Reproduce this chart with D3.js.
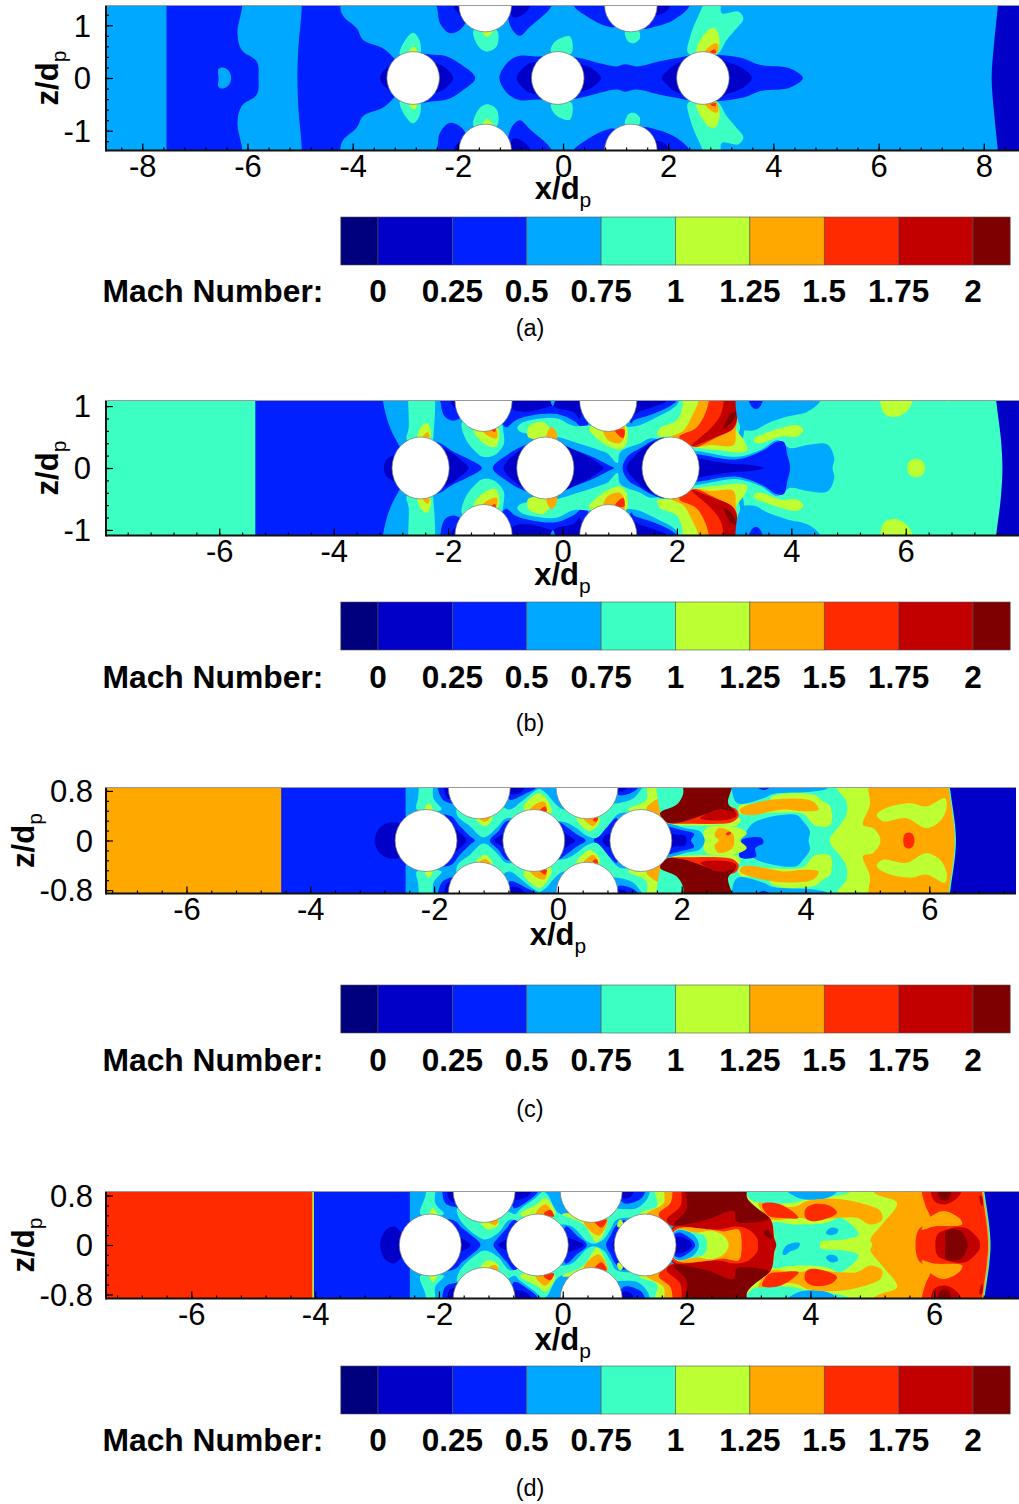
<!DOCTYPE html>
<html><head><meta charset="utf-8">
<style>html,body{margin:0;padding:0;background:#fff}svg{display:block}text{font-family:"Liberation Sans",Arial,sans-serif}</style>
<script src="https://cdnjs.cloudflare.com/ajax/libs/d3/7.8.5/d3.min.js"></script>
</head><body>
<svg id="chart" width="1019" height="1504"></svg>
<script>
// Mach bands
const machTicks=[0,0.25,0.5,0.75,1,1.25,1.5,1.75,2];
const machEdges=[-0.125,0,0.25,0.5,0.75,1,1.25,1.5,1.75,2,2.125];
const bandColors=["#00007f","#0000c8","#0020ff","#00a8ff","#3cffc3","#bcff33","#ffa800","#ff2a00","#c20000","#7f0000"];

// cylinder centres (x/dp): middle row, then the two rows cut by the frame edge
const cylA={mid:[-2.85,-0.1,2.66],edge:[-1.48,1.29],z:1.375};
const cylB={mid:[-2.48,-0.30,1.89],edge:[-1.38,0.80],z:1.09};
const cylC={mid:[-2.13,-0.39,1.34],edge:[-1.27,0.47],z:0.85};
const cylD={mid:[-2.14,-0.41,1.33],edge:[-1.27,0.46],z:0.865};

// contour rings: [band index, kind, [[x/dp,z/dp],...]]
// kind 0 = drawn with its mirror in z, 1 = closed across z=0 by its mirror, 2 = drawn once
const ringsA=[
[2,1,[[-5.79,0],[-5.82,.31],[-6.11,.53],[-6.19,.85],[-6.10,1.36],[-6.08,2],[-7.54,2],[-7.54,1.5],[-7.54,.8],[-7.54,0]]],
[3,1,[[-6.31,0],[-6.35,.13],[-6.46,.2],[-6.55,.17],[-6.55,0]]],
[2,1,[[-2.9,0],[-3.2,.36],[-3.42,.56],[-3.8,.72],[-3.92,.94],[-4.21,1.23],[-4.26,2],[-4.97,2],[-4.97,1.3],[-5.03,.6],[-5.05,0]]],
[1,1,[[-3.48,0],[-3.42,.13],[-3.25,.25],[-3,.2],[-3,0]]],
[2,1,[[-1.67,0],[-1.93,.25],[-2.21,.41],[-2.46,.44],[-2.85,.44],[-2.85,0]]],
[1,1,[[-2.09,0],[-2.27,.22],[-2.46,.29],[-2.8,.3],[-2.8,0]]],
[2,1,[[-1.21,0],[-1.04,.31],[-.82,.42],[-.5,.41],[.26,.39],[.7,.28],[1.02,.22],[1.18,.26],[1.4,.22],[1.84,.32],[2.22,.39],[2.5,.44],[2.92,.44],[3.43,.37],[3.74,.25],[4.32,.18],[4.56,0]]],
[1,1,[[.72,0],[.55,.18],[.32,.26],[-.6,.29],[-.75,.2],[-.88,0]]],
[1,1,[[3.59,0],[3.43,.18],[3.11,.31],[2.92,.38],[2.16,.27],[2,.15],[1.88,0]]],
[2,0,[[-2.4,1.6],[-2.38,1.25],[-2.34,1.04],[-2.15,.85],[-1.93,.94],[-1.8,1.2],[-1.8,1.6]]],
[1,0,[[-2.1,1.6],[-2.05,1.3],[-1.85,1.15],[-1.7,1.3],[-1.7,1.6]]],
[2,0,[[-1,.98],[-.82,.8],[-.63,.97],[-.22,1.36],[-.2,1.6],[-1,1.6]]],
[2,0,[[.2,1.37],[.15,1.6],[1,1.6],[1,.98],[.83,.98],[.45,1.17]]],
[2,0,[[1.5,1.6],[1.5,.95],[1.78,.98],[2.1,1.1],[2.4,1.36],[2.4,1.6]]],
[1,0,[[-.95,1.6],[-.95,1.15],[-.7,1.25],[-.55,1.6]]],
[1,0,[[1.75,1.6],[1.75,1.2],[2,1.3],[2.05,1.6]]],
[4,0,[[-3.1,.44],[-3,.72],[-2.85,.86],[-2.73,.72],[-2.73,.44]]],
[5,0,[[-2.94,.4],[-2.88,.58],[-2.8,.58],[-2.78,.4]]],
[4,0,[[-1.7,.91],[-1.61,.6],[-1.45,.5],[-1.26,.6],[-1.26,.91]]],
[5,0,[[-1.55,.95],[-1.45,.78],[-1.3,.95]]],
[4,0,[[-.23,.5],[-.15,.69],[.13,.79],[.16,.47]]],
[4,0,[[1.18,.88],[1.24,.69],[1.34,.66],[1.46,.75],[1.43,.91]]],
[4,0,[[2.38,.47],[2.42,.79],[2.57,1.17],[2.76,1.5],[2.98,1.5],[3.02,1.23],[3.33,1.26],[3.43,1.13],[3.27,.91],[3.11,.72],[2.92,.44]]],
[5,0,[[2.54,.5],[2.76,.91],[2.89,.94],[2.98,.69],[2.89,.44]]],
[6,0,[[2.7,.5],[2.89,.66],[2.95,.63],[2.92,.47]]],
[7,0,[[2.8,.5],[2.89,.54],[2.91,.47]]],
[1,1,[[8.15,0],[8.2,.7],[8.27,1.4],[8.3,2],[9.5,2],[9.5,0]]]
];
const ringsB=[
[3,1,[[-3.6,0],[-3.6,2],[3.1,2],[3.1,0]]],
[2,1,[[-2.6,0],[-2.86,.37],[-3.01,.64],[-3.14,1.09],[-3.18,2],[-5.37,2],[-5.37,1.3],[-5.37,.8],[-5.37,0]]],
[1,1,[[-3.12,0],[-3.08,.13],[-2.9,.22],[-2.7,.2],[-2.7,0]]],
[4,0,[[-2.63,1.5],[-2.69,.64],[-2.72,.45],[-2.3,.4],[-2.25,.6],[-2.31,1.5]]],
[5,0,[[-2.53,.5],[-2.45,.69],[-2.36,.72],[-2.3,.59],[-2.32,.48]]],
[6,0,[[-2.44,.5],[-2.36,.58],[-2.32,.5]]],
[2,0,[[-2.1,1.4],[-2.1,.91],[-2.02,.8],[-1.87,.77],[-1.7,.9],[-1.7,1.4]]],
[1,0,[[-1.95,1.3],[-1.92,1],[-1.8,.95],[-1.7,1.3]]],
[4,0,[[-1.75,.75],[-1.7,.48],[-1.55,.29],[-1.4,.18],[-1.2,.2],[-1.03,.37],[-1.03,.56],[-1.1,.75]]],
[5,0,[[-1.55,.61],[-1.38,.4],[-1.17,.34],[-1.11,.48],[-1.14,.64]]],
[6,0,[[-1.4,.61],[-1.32,.53],[-1.15,.48],[-1.17,.64]]],
[7,0,[[-1.26,.63],[-1.18,.58],[-1.17,.64]]],
[2,1,[[-1.41,0],[-1.65,.15],[-1.9,.26],[-2.19,.42],[-2.5,.45],[-2.5,0]]],
[1,1,[[-1.64,0],[-1.78,.13],[-2.02,.29],[-2.3,.3],[-2.3,0]]],
[2,1,[[-1.22,0],[-.97,.21],[-.73,.34],[-.3,.47],[-.09,.42],[.2,.3],[.55,.17],[.8,.05],[.9,0]]],
[1,1,[[-1.03,0],[-.85,.21],[-.6,.35],[-.3,.4],[-.03,.37],[.2,.29],[.49,.16],[.66,.05],[.72,0]]],
[2,0,[[-1,.66],[-.8,.78],[-.38,.87],[-.09,.87],[.2,.76],[.4,.62],[.4,1.4],[-1.1,1.4]]],
[1,0,[[-.88,.96],[-.62,.91],[-.27,.98],[-.18,1],[-.09,.96],[.2,.9],[.3,.8],[.3,1.4],[-.88,1.4]]],
[3,0,[[-.21,1.12],[-.17,1.0],[-.13,1.12]]],
[2,0,[[1.2,1.4],[1.2,.72],[1.25,.77],[1.6,.88],[2,1.09],[2.05,1.4]]],
[1,0,[[1.2,1.3],[1.2,.85],[1.34,.91],[1.6,.99],[1.83,1.09],[1.9,1.3]]],
[4,0,[[-.79,.64],[-.73,.72],[-.38,.8],[-.09,.8],[.2,.68],[.6,.7],[1.25,.67],[1.6,.8],[2,1.02],[2.12,1.3],[3,1.3],[3,.4],[2,.4],[1.54,.48],[1.36,.4],[1.01,.26],[.96,.08],[.78,.24],[.61,.3],[.2,.42],[-.09,.5],[-.73,.58]]],
[2,1,[[1.05,0],[1.15,.2],[1.36,.32],[1.54,.42],[1.8,.48],[1.8,0]]],
[1,1,[[1.12,0],[1.22,.15],[1.51,.38],[1.8,.45],[1.8,0]]],
[5,0,[[-.6,.5],[-.58,.68],[-.33,.74],[-.2,.6],[-.18,.48]]],
[6,0,[[-.28,.5],[-.2,.66],[-.12,.6],[-.1,.45]]],
[5,0,[[.46,.64],[.6,.48],[.8,.35],[1.02,.3],[1.12,.4],[1.1,.7]]],
[6,0,[[.72,.6],[.8,.45],[1.0,.4],[1.08,.5],[1.06,.7]]],
[7,0,[[.92,.6],[1.06,.48],[1.08,.62]]],
[4,1,[[3.4,0],[3.5,.34],[3.2,.32],[2.2,.38],[2,.35],[2,0]]],
[5,0,[[1.66,.52],[1.7,.64],[2,.77],[2.1,1],[2.1,1.4],[3.06,1.4],[3.06,.9],[3.03,.64],[3.17,.45],[3.23,.29],[3.1,.25],[2.8,.28],[2.3,.34],[2.1,.42],[1.9,.5]]],
[6,0,[[1.9,.5],[2.12,.61],[2.27,.85],[2.38,1.09],[2.38,1.4],[3.06,1.4],[3.06,.9],[3.03,.62],[2.99,.37],[2.6,.37],[2.3,.34],[2.05,.47]]],
[7,0,[[2.04,.5],[2.33,.64],[2.47,.83],[2.56,1.09],[2.56,1.4],[3.06,1.4],[3.06,.9],[3.03,.7],[2.9,.6],[2.6,.45],[2.3,.34]]],
[8,0,[[2.26,.36],[2.59,.64],[2.76,.85],[2.82,1.09],[2.82,1.4],[3.06,1.4],[3.06,.9],[3.03,.72],[2.97,.62],[2.6,.47]]],
[9,0,[[2.82,.64],[2.94,.88],[3.03,.91],[2.97,.75]]],
[3,0,[[3.11,1.4],[3.13,.64],[3.35,.61],[3.58,.72],[3.93,.83],[4.28,.91],[4.51,1.09],[4.55,1.4]]],
[2,0,[[3.26,1.15],[3.3,1],[3.38,.95],[3.46,1],[3.5,1.15]]],
[5,0,[[3.35,.48],[3.46,.53],[3.81,.64],[4.1,.69],[4.21,.61],[4.1,.51],[3.81,.51],[3.46,.4],[3.35,.42]]],
[5,0,[[5.59,1.3],[5.62,.88],[5.85,.83],[6.08,.99],[6.09,1.3]]],
[5,0,[[6.68,1.12],[6.73,1.07],[6.78,1.12]]],
[5,1,[[6.34,0],[6.3,.1],[6.18,.15],[6.06,.1],[6.03,0]]],
[3,1,[[4.72,0],[4.75,.16],[4.63,.38],[4.28,.37],[3.99,.32],[3.76,.45],[3.46,.29],[3.05,.18],[2.38,.27],[2,.3],[2,0]]],
[2,1,[[3.98,0],[3.93,.21],[3.87,.42],[3.73,.42],[3.52,.29],[3.05,.14],[2.38,.22],[2,.25],[2,0]]],
[1,1,[[3.52,0],[3.3,.05],[2.94,.07],[2.39,.15],[2,.2],[2,0]]],
[1,1,[[7.69,0],[7.66,.5],[7.58,1.1],[7.5,2],[9.5,2],[9.5,0]]]
];
const ringsC=[
[3,1,[[-2.7,0],[-2.7,2],[2,2],[2,0]]],
[2,1,[[-2.46,0],[-2.46,.5],[-2.46,1],[-2.46,2],[-4.47,2],[-4.47,1],[-4.47,.5],[-4.47,0]]],
[1,1,[[-2.96,0],[-2.88,.2],[-2.71,.29],[-2.5,.25],[-2.4,0]]],
[4,0,[[-2.28,.5],[-2.26,.68],[-2.2,1],[-2.04,1],[-2.01,.68],[-1.88,.5]]],
[5,0,[[-2.15,.5],[-2.09,.6],[-2.02,.5]]],
[2,0,[[-1.93,1],[-1.88,.68],[-1.74,.6],[-1.6,.6],[-1.6,1]]],
[1,0,[[-1.83,.95],[-1.78,.68],[-1.65,.68],[-1.65,.95]]],
[2,1,[[-1.34,0],[-1.42,.07],[-1.6,.25],[-1.72,.39],[-2,.4],[-2,0]]],
[1,1,[[-1.48,0],[-1.58,.12],[-1.8,.25],[-1.8,0]]],
[2,1,[[-1.1,0],[-.96,.15],[-.83,.31],[-.6,.3],[-.6,0]]],
[1,1,[[-1.02,0],[-.91,.09],[-.8,.15],[-.8,0]]],
[2,1,[[.45,0],[.3,.1],[.14,.22],[0,.3],[0,0]]],
[1,1,[[.28,0],[.2,.06],[.1,.12],[0,.1],[0,0]]],
[2,1,[[.58,0],[.68,.12],[.84,.27],[.95,.36],[1,0]]],
[1,1,[[.72,0],[.8,.1],[.9,.1],[.9,0]]],
[2,0,[[-.78,.95],[-.78,.66],[-.5,.77],[-.34,.86],[-.34,.95]]],
[1,0,[[-.78,.95],[-.78,.76],[-.6,.78],[-.5,.95]]],
[2,0,[[.9,1],[.97,.74],[1.16,.76],[1.3,.86],[1.3,1]]],
[1,0,[[.9,1],[.97,.8],[1.1,.82],[1.15,1]]],
[4,0,[[-1.6,.6],[-1.63,.41],[-1.42,.23],[-1.2,.05],[-.99,.2],[-.83,.36],[-.4,.3],[.11,.3],[.3,.2],[.46,.08],[.62,.04],[.78,.2],[.9,.36],[1,.44],[1.3,.45],[1.7,.6],[1.7,.95],[1.46,.95],[1.22,.68],[.97,.6],[.7,.6],[.09,.5],[-.2,.77],[-.3,.83],[-.4,.78],[-.6,.62],[-.78,.5],[-1,.6]]],
[5,0,[[-1.34,.37],[-1.18,.23],[-1.07,.33],[-1.07,.42],[-1.3,.45]]],
[6,0,[[-1.28,.37],[-1.18,.3],[-1.09,.37],[-1.1,.42],[-1.25,.42]]],
[5,0,[[-.56,.52],[-.4,.72],[-.28,.76],[-.14,.6],[-.1,.45],[-.3,.42]]],
[6,0,[[-.45,.5],[-.29,.62],[-.21,.62],[-.18,.47],[-.35,.45]]],
[7,0,[[-.3,.47],[-.21,.55],[-.18,.47]]],
[5,0,[[.3,.36],[.52,.15],[.68,.31],[.65,.39],[.45,.42]]],
[6,0,[[.41,.37],[.57,.23],[.65,.37],[.55,.42]]],
[7,0,[[.56,.34],[.62,.3],[.65,.37]]],
[5,0,[[1.14,.5],[1.43,.66],[1.46,1],[2.5,1],[2.5,.4],[1.5,.4]]],
[6,0,[[1.43,.52],[1.54,.63],[1.65,.7],[1.65,1],[2.5,1],[2.5,.4],[1.6,.4]]],
[7,0,[[1.65,.5],[1.76,.7],[1.76,1],[2.5,1],[2.5,.4],[1.8,.3]]],
[8,0,[[1.7,.48],[1.85,.72],[1.91,1],[2.5,1],[2.5,.4],[1.8,.3]]],
[5,1,[[5.21,0],[5.2,.06],[5.09,.2],[4.93,.25],[5.04,.58],[5.01,.86],[5.01,1.4],[2.7,1.4],[2.7,0]]],
[4,1,[[4.39,0],[4.56,.25],[4.66,.41],[4.66,.63],[4.5,.86],[4.5,1.4],[1.7,1.4],[1.7,0]]],
[3,0,[[2.75,1.2],[2.8,.86],[2.9,.6],[3.32,.68],[3.48,.75],[4.12,.79],[4.37,.86],[4.37,1.2]]],
[2,0,[[3.15,.95],[3.32,.81],[3.52,.95]]],
[5,0,[[2.93,.44],[2.93,.56],[3.37,.6],[3.48,.72],[4.12,.74],[4.29,.63],[4.4,.55],[4.4,.25],[4.15,.24],[3.96,.43],[3.53,.45]]],
[6,0,[[2.94,.5],[3.48,.66],[4.12,.63],[4.21,.5],[3.96,.47],[3.64,.5],[3.15,.41],[2.97,.43]]],
[5,0,[[1.76,.27],[2.2,.24],[2.6,.24],[2.9,.25],[2.95,.35],[2.3,.38],[1.9,.35]]],
[7,0,[[1.76,.29],[2.2,.27],[2.6,.27],[2.82,.3],[2.92,.4],[2.86,.52],[2.4,.5],[2,.4]]],
[8,0,[[2.3,.36],[2.62,.5],[2.86,.47],[2.88,.39],[2.7,.33],[2.4,.33]]],
[9,0,[[1.65,.44],[1.92,.58],[2.02,.74],[2.05,1],[2.81,1],[2.81,.86],[2.75,.6],[2.86,.47],[2.62,.5],[2.35,.41],[2,.3],[1.76,.29]]],
[3,1,[[4.05,0],[4.07,.15],[3.96,.31],[3.86,.41],[3.48,.39],[3.15,.28],[2.99,.07],[2.9,0]]],
[2,2,[[2.94,-.1],[2.97,.01],[3.29,.04],[3.32,-.04],[3.19,-.12],[3.2,-.26],[2.94,-.27]]],
[3,1,[[2.37,0],[2.3,.14],[2.05,.2],[1.8,.27],[1.7,.27],[1.7,0]]],
[2,1,[[2.15,0],[2.2,.1],[1.95,.18],[1.8,.22],[1.7,.25],[1.7,0]]],
[1,1,[[2.08,0],[2.05,.08],[1.87,.1],[1.75,.15],[1.7,0]]],
[5,1,[[2.95,0],[3.05,.12],[2.85,.22],[2.4,.2],[2.35,.1],[2.38,0]]],
[6,1,[[2.85,0],[2.82,.12],[2.6,.2],[2.53,.08],[2.6,0]]],
[7,2,[[2.71,.1],[2.76,.14],[2.8,.12],[2.75,.08]]],
[5,0,[[5.15,.41],[5.29,.52],[5.69,.6],[5.95,.55],[6.25,.68],[6.28,.52],[6.17,.31],[5.95,.2],[5.63,.36],[5.25,.31]]],
[7,1,[[5.76,0],[5.73,.1],[5.67,.13],[5.6,.1],[5.58,0]]],
[4,1,[[6.41,0],[6.39,.3],[6.32,.8],[6.28,1.2],[8,1.2],[8,0]]],
[1,1,[[6.43,0],[6.41,.3],[6.34,.8],[6.3,1.2],[8,1.2],[8,0]]]
];
const ringsD=[
[5,1,[[-4.045,0],[-4.045,.5],[-4.045,1],[-4.045,2],[-3,2],[-3,0]]],
[3,1,[[-2.7,0],[-2.7,2],[2,2],[2,0]]],
[2,1,[[-2.47,0],[-2.47,.5],[-2.47,1],[-2.47,2],[-4.02,2],[-4.02,1],[-4.02,.5],[-4.02,0]]],
[1,1,[[-2.95,0],[-2.87,.23],[-2.73,.3],[-2.6,.2],[-2.4,0]]],
[4,0,[[-2.3,.5],[-2.22,.79],[-2.18,1],[-2.06,1],[-2.06,.68],[-1.92,.5]]],
[5,0,[[-2.15,.5],[-2.1,.6],[-2.03,.5]]],
[2,0,[[-1.92,1],[-1.9,.68],[-1.76,.62],[-1.6,.62],[-1.6,1]]],
[1,0,[[-1.85,.95],[-1.82,.72],[-1.65,.7],[-1.65,.95]]],
[2,1,[[-1.33,0],[-1.49,.17],[-1.63,.28],[-1.74,.39],[-2,.4],[-2,0]]],
[1,1,[[-1.49,0],[-1.6,.09],[-1.8,.15],[-1.8,0]]],
[2,1,[[-1.12,0],[-1.04,.12],[-.9,.28],[-.79,.41],[-.6,.4],[-.6,0]]],
[1,1,[[-1.04,0],[-.9,.09],[-.8,.1],[-.8,0]]],
[2,1,[[.39,0],[.23,.15],[.05,.3],[0,0]]],
[1,1,[[.34,0],[.17,.09],[0,.12],[0,0]]],
[2,1,[[.7,0],[.77,.15],[.85,.3],[1,.4],[1.2,0]]],
[1,1,[[.8,0],[.85,.09],[1,.1],[1,0]]],
[2,0,[[-.79,1],[-.79,.6],[-.55,.72],[-.4,.86],[-.4,1]]],
[1,0,[[-.79,1],[-.79,.74],[-.55,.8],[-.5,1]]],
[2,0,[[.9,1],[.98,.68],[1.25,.74],[1.33,.86],[1.33,1]]],
[1,0,[[.9,1],[.96,.76],[1.1,.78],[1.15,1]]],
[4,0,[[-1.7,.6],[-1.66,.41],[-1.39,.15],[-1.25,.09],[-1.04,.2],[-.85,.41],[-.5,.3],[.12,.31],[.39,.06],[.5,.02],[.66,.09],[.77,.25],[.87,.41],[1.3,.45],[1.7,.55],[1.63,.85],[1.63,1],[1.47,1],[1.36,.74],[1.2,.6],[.98,.58],[.7,.6],[-.04,.5],[-.25,.82],[-.32,.86],[-.44,.76],[-.69,.58],[-.77,.5],[-1,.6]]],
[5,0,[[-1.33,.37],[-1.22,.25],[-1.05,.31],[-1.05,.41],[-1.3,.45]]],
[6,0,[[-1.2,.37],[-1.09,.32],[-1.04,.4],[-1.2,.42]]],
[5,0,[[-.69,.5],[-.42,.66],[-.28,.76],[-.12,.5],[-.4,.42]]],
[6,0,[[-.44,.5],[-.28,.66],[-.15,.47],[-.3,.44]]],
[7,0,[[-.31,.5],[-.2,.57],[-.14,.46]]],
[5,0,[[-.01,.5],[.34,.33],[.55,.04],[.71,.31],[.71,.41],[.3,.5]]],
[6,0,[[.34,.37],[.58,.15],[.72,.41],[.5,.45]]],
[7,0,[[.52,.37],[.63,.28],[.71,.41]]],
[5,0,[[.88,.3],[.92,.41],[.97,.37],[.97,.28]]],
[5,0,[[1.25,.52],[1.52,.63],[1.49,1],[2.2,1],[2.2,.35],[1.6,.35]]],
[6,0,[[1.36,.5],[1.63,.68],[1.66,1],[2.2,1],[2.2,.35],[1.6,.35]]],
[7,0,[[1.55,.5],[1.74,.68],[1.82,1],[2.2,1],[2.2,.35],[1.7,.33]]],
[8,0,[[1.68,.41],[1.9,.63],[1.95,1],[2.2,1],[2.2,.35],[1.75,.32]]],
[6,1,[[5.7,0],[5.7,.06],[5.75,.25],[5.94,.41],[5.86,.63],[5.8,.86],[5.8,1.4],[2.7,1.4],[2.7,0]]],
[5,1,[[5,0],[4.97,.09],[5.18,.36],[5.4,.68],[5.02,.86],[4.9,1.4],[2.9,1.4],[2.9,0]]],
[4,0,[[2.9,1.2],[3.03,.74],[3.67,.68],[3.95,.74],[4.54,.82],[4.7,.9],[4.7,1.2]]],
[3,0,[[3.51,1],[3.81,.76],[4.27,.76],[4.43,.86],[4.5,1]]],
[6,0,[[3.16,.68],[3.5,.62],[3.78,.63],[3.95,.71],[4.48,.74],[4.97,.63],[5.13,.55],[5.16,.41],[4.97,.33],[4.75,.44],[4.48,.44],[4.05,.41],[3.78,.44],[3.35,.42]]],
[7,0,[[3.92,.58],[4.05,.66],[4.32,.63],[4.43,.52],[4.21,.41],[4,.39],[3.92,.44]]],
[7,0,[[3.22,.66],[3.51,.66],[3.81,.44],[3.51,.44],[3.33,.47]]],
[4,1,[[4.16,0],[4.16,.05],[4.54,.09],[4.78,.17],[4.48,.44],[4.27,.36],[3.78,.33],[3.38,.36],[3.41,.25],[3.43,0]]],
[3,0,[[4.25,.2],[4.33,.28],[4.45,.25],[4.42,.18],[4.3,.16]]],
[3,2,[[3.55,-.15],[3.6,-.02],[3.75,.04],[3.83,.03],[3.8,-.05],[3.65,-.12],[3.6,-.16]]],
[8,1,[[3.45,0],[3.42,.1],[3.35,.43],[3,.6],[2.7,.6],[2.3,.42],[1.79,.3],[1.7,0]]],
[9,0,[[1.79,.33],[2.33,.41],[2.76,.55],[2.81,.38],[3.24,.39],[3.33,.43],[2.98,.76],[2.98,1.1],[2,1.1],[2,.58]]],
[9,2,[[3.25,.19],[3.3,.25],[3.4,.1],[3.3,.13]]],
[7,1,[[3.15,0],[3.15,.09],[3,.25],[2.8,.3],[2.5,.25],[2.2,.27],[1.8,.28],[1.7,0]]],
[6,1,[[2.89,0],[2.84,.25],[2.6,.22],[2.38,.25],[1.85,.26],[1.7,0]]],
[5,1,[[2.68,0],[2.6,.15],[2.4,.23],[2.15,.2],[1.85,.25],[1.7,0]]],
[4,1,[[2.33,0],[2.28,.15],[2,.22],[1.85,.25],[1.7,0]]],
[3,1,[[2.2,0],[2.11,.17],[1.85,.24],[1.7,0]]],
[2,1,[[2.14,0],[2,.15],[1.85,.2],[1.7,0]]],
[1,1,[[2.09,0],[1.95,.12],[1.8,.12],[1.7,0]]],
[6,0,[[5.9,.42],[6.15,.55],[6.42,.42],[6.45,.33],[6,.3],[5.8,.25]]],
[8,1,[[6.74,0],[6.72,.09],[6.5,.28],[6.2,.25],[6.05,.17],[6.02,0]]],
[9,1,[[6.54,0],[6.42,.23],[6.2,.23],[6.18,0]]],
[8,0,[[5.96,1],[6,.71],[6.2,.66],[6.42,.82],[6.42,1]]],
[9,0,[[6.07,1],[6.1,.74],[6.23,.74],[6.26,1]]],
[8,0,[[6.73,.79],[6.77,.63],[6.8,.72],[6.76,.8]]],
[5,0,[[4.8,.12],[4.9,.14],[4.88,.1],[4.78,.09]]],
[6,1,[[6.87,0],[6.85,.3],[6.77,.86],[6.72,1.2],[8,1.2],[8,0]]],
[4,1,[[6.89,0],[6.87,.3],[6.79,.86],[6.74,1.2],[8,1.2],[8,0]]],
[1,1,[[6.91,0],[6.89,.3],[6.81,.86],[6.76,1.2],[8,1.2],[8,0]]]
];

// axis ticks per panel
const xTicksA=[-8,-6,-4,-2,0,2,4,6,8], zTicksA=[-1,0,1];
const xTicksB=[-6,-4,-2,0,2,4,6],      zTicksB=[-1,0,1];
const xTicksCD=[-6,-4,-2,0,2,4,6],     zTicksCD=[-0.8,0,0.8];
const captions=["(a)","(b)","(c)","(d)"];

// panel layout: frame in page pixels, axis domains, legend rows
const panels=[
 {id:"a",box:[106,1019,5.5,150.5],xd:[-8.69,8.67],zd:[-1.375,1.375],base:3,rings:ringsA,cyl:cylA,xt:xTicksA,zt:zTicksA,xm:.4,zm:.2,title:199,bar:217,lab:291,cap:328,ytx:91,zx:58},
 {id:"b",box:[106,1019,400.5,535.5],xd:[-7.98,7.98],zd:[-1.09,1.09],base:4,rings:ringsB,cyl:cylB,xt:xTicksB,zt:zTicksB,xm:.4,zm:.2,title:585,bar:602,lab:677,cap:723,ytx:91,zx:58},
 {id:"c",box:[106,1016,787.5,893.5],xd:[-7.3,7.4],zd:[-.855,.855],base:6,rings:ringsC,cyl:cylC,xt:xTicksCD,zt:zTicksCD,xm:.4,zm:.16,title:945,bar:985,lab:1060,cap:1109,ytx:93,zx:34},
 {id:"d",box:[106,1019,1191.5,1298.5],xd:[-7.378,7.37],zd:[-.865,.865],base:7,rings:ringsD,cyl:cylD,xt:xTicksCD,zt:zTicksCD,xm:.4,zm:.16,title:1350,bar:1366,lab:1440,cap:1488,ytx:93,zx:34}
];

const svg=d3.select("#chart");
const fmt=d=>String(d);
const cbar=d3.scaleLinear().domain([0,2]).range([378,973]);

panels.forEach(p=>{
  const [x0,x1,y0,y1]=p.box;
  const x=d3.scaleLinear().domain(p.xd).range([x0,x1]);
  const z=d3.scaleLinear().domain(p.zd).range([y1,y0]);
  const g=svg.append("g");
  g.append("clipPath").attr("id","clip"+p.id).append("rect").attr("x",x0).attr("y",y0).attr("width",x1-x0).attr("height",y1-y0);
  const plot=g.append("g").attr("clip-path",`url(#clip${p.id})`);
  plot.append("rect").attr("x",x0).attr("y",y0).attr("width",x1-x0).attr("height",y1-y0).attr("fill",bandColors[p.base]);
  const line=d3.line().x(d=>x(d[0])).y(d=>z(d[1])).curve(d3.curveCatmullRomClosed.alpha(.5));
  p.rings.forEach(([band,kind,pts])=>{
    const mir=pts.map(d=>[d[0],-d[1]]);
    let paths;
    if(kind===1) paths=[pts.concat(mir.filter(d=>d[1]!==0).reverse())];
    else if(kind===0) paths=[pts,mir];
    else paths=[pts];
    paths.forEach(q=>plot.append("path").attr("d",line(q)).attr("fill",bandColors[band]));
  });
  // cylinders
  const rx=x(.5)-x(0), ry=z(0)-z(.5);
  const cyl=[...p.cyl.mid.map(c=>[c,0]),...p.cyl.edge.flatMap(c=>[[c,p.cyl.z],[c,-p.cyl.z]])];
  plot.selectAll("ellipse").data(cyl).join("ellipse")
    .attr("cx",d=>x(d[0])).attr("cy",d=>z(d[1])).attr("rx",rx).attr("ry",ry)
    .attr("fill","#fff").attr("stroke","#777").attr("stroke-width",.7);
  // axes
  const minorX=d3.range(Math.ceil(p.xd[0]/p.xm),Math.floor(p.xd[1]/p.xm)+1).map(k=>k*p.xm);
  const minorZ=d3.range(Math.ceil(p.zd[0]/p.zm),Math.floor(p.zd[1]/p.zm)+1).map(k=>k*p.zm);
  const ax=g.append("g").attr("transform",`translate(0,${y1})`);
  ax.call(d3.axisBottom(x).tickValues(minorX).tickSize(-3).tickFormat(""));
  const ax2=g.append("g").attr("transform",`translate(0,${y1})`);
  ax2.call(d3.axisBottom(x).tickValues(p.xt).tickSize(-7).tickPadding(4).tickFormat(fmt));
  const ay=g.append("g").attr("transform",`translate(${x0},0)`);
  ay.call(d3.axisLeft(z).tickValues(minorZ).tickSize(-3).tickFormat(""));
  const ay2=g.append("g").attr("transform",`translate(${x0},0)`);
  ay2.call(d3.axisLeft(z).tickValues(p.zt).tickSize(-7).tickPadding(9).tickFormat(fmt));
  [ax,ax2,ay,ay2].forEach(s=>{s.select(".domain").remove();
    s.selectAll("line").attr("stroke","#000").attr("stroke-width",1.2);
    s.selectAll("text").attr("fill","#000").style("font-family",'"Liberation Sans",sans-serif').style("font-size","31px");});
  ax2.selectAll("text").attr("dy","0.72em");
  ay2.selectAll("text").attr("dy","0.35em").attr("x",p.ytx-x0);
  g.append("line").attr("x1",x0).attr("x2",x0).attr("y1",y0).attr("y2",y1+1).attr("stroke","#111").attr("stroke-width",2);
  g.append("line").attr("x1",x0).attr("x2",x1).attr("y1",y1).attr("y2",y1).attr("stroke","#111").attr("stroke-width",2);
  g.append("line").attr("x1",x0).attr("x2",x1).attr("y1",y0).attr("y2",y0).attr("stroke","#999").attr("stroke-width",1);
  // axis titles
  const tx=g.append("text").attr("x",x(0)).attr("y",p.title).attr("text-anchor","middle").attr("font-size",31).attr("font-weight","bold");
  tx.append("tspan").text("x/d");
  tx.append("tspan").text("p").attr("dy",8).attr("font-size",21).attr("font-weight","normal");
  const tz=g.append("text").attr("transform",`translate(${p.zx},${z(0)}) rotate(-90)`).attr("text-anchor","middle").attr("font-size",31).attr("font-weight","bold");
  tz.append("tspan").text("z/d");
  tz.append("tspan").text("p").attr("dy",8).attr("font-size",21).attr("font-weight","normal");
  // colour bar
  const leg=g.append("g");
  leg.selectAll("rect").data(bandColors).join("rect")
    .attr("x",(d,i)=>cbar(machEdges[i])).attr("width",(d,i)=>cbar(machEdges[i+1])-cbar(machEdges[i]))
    .attr("y",p.bar).attr("height",48).attr("fill",d=>d).attr("stroke","#555").attr("stroke-width",.6);
  leg.selectAll("text").data(machTicks).join("text")
    .attr("x",d=>cbar(d)).attr("y",p.lab+11).attr("text-anchor","middle").attr("font-size",31.5).attr("font-weight","bold").text(fmt);
  leg.append("text").attr("x",102.5).attr("y",p.lab+11).attr("font-size",31.8).attr("font-weight","bold").text("Mach Number:");
  g.append("text").attr("x",530).attr("y",p.cap+8).attr("text-anchor","middle").attr("font-size",23.5).text(captions[panels.indexOf(p)]);
});
</script>
</body></html>
